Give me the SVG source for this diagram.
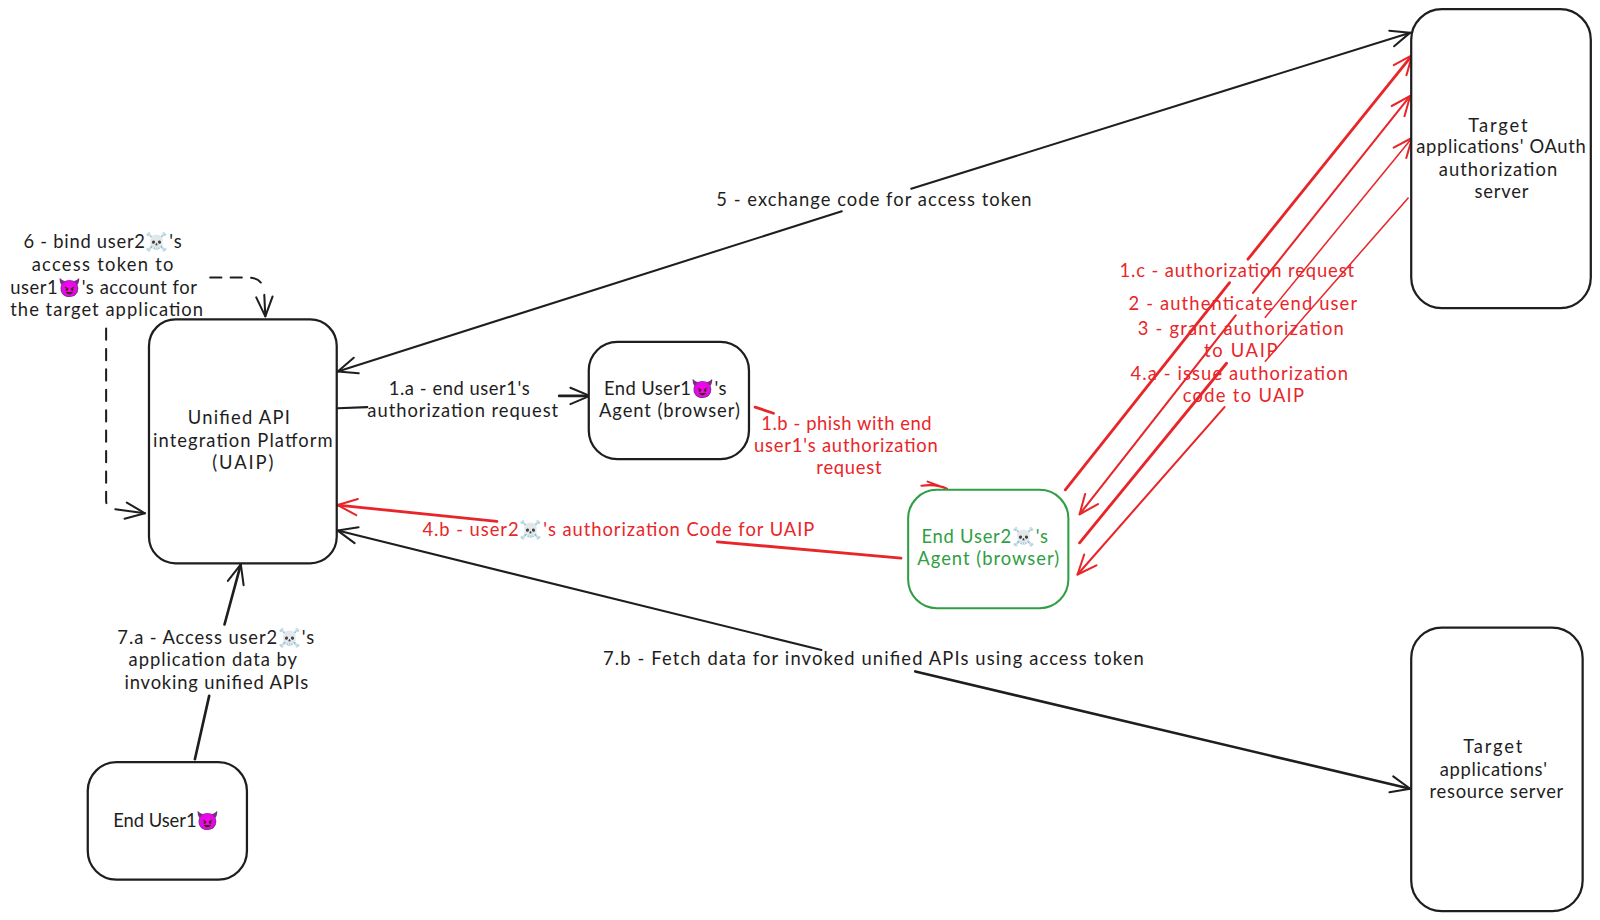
<svg xmlns="http://www.w3.org/2000/svg" width="1600" height="920" viewBox="0 0 1600 920">
<style>
text{font-family:"Lato","Noto Sans","Noto Color Emoji",sans-serif;font-size:18px;fill:#1e1e1e}
.r text,text.r{fill:#e8262a}
.g text{fill:#2f9e44}
.box{fill:#fff;stroke:#1e1e1e;stroke-width:2.2}
.gb{fill:#fff;stroke:#2f9e44;stroke-width:2}
.k{fill:none;stroke:#1e1e1e;stroke-width:2;stroke-linecap:round}
.kt{stroke-width:2.6}
.d{stroke-dasharray:11 9}
.rl{fill:none;stroke:#e8262a;stroke-width:2;stroke-linecap:round}
.rt{stroke-width:2.8}
.rn{stroke-width:1.5}
</style>
<defs>
<marker id="ak" viewBox="-24 -14 28 28" markerWidth="28" markerHeight="28" refX="0" refY="0" markerUnits="userSpaceOnUse" orient="auto-start-reverse"><path d="M-19,-8 L0,0 L-19,8" fill="none" stroke="#1e1e1e" stroke-width="2" stroke-linecap="round" stroke-linejoin="round"/></marker>
<marker id="ar" viewBox="-24 -14 28 28" markerWidth="28" markerHeight="28" refX="0" refY="0" markerUnits="userSpaceOnUse" orient="auto-start-reverse"><path d="M-19,-8 L0,0 L-19,8" fill="none" stroke="#e8262a" stroke-width="2" stroke-linecap="round" stroke-linejoin="round"/></marker>
</defs>
<rect width="1600" height="920" fill="#fff"/>
<g transform="scale(1.0204)">
<g id="connectors">
<path class="k" d="M825,207 L331,364" marker-end="url(#ak)"/>
<path class="k" d="M893,185 L1382,32" marker-end="url(#ak)"/>
<path class="k" d="M331,400 L360,399"/>
<path class="k kt" d="M548,388 L578,388" marker-end="url(#ak)"/>
<path class="k" d="M805,637 L331,520" marker-end="url(#ak)"/>
<path class="k kt" d="M897,658 L1382,773" marker-end="url(#ak)"/>
<path class="k kt" d="M191,744 L205,682"/>
<path class="k kt" d="M220,612 L236,553" marker-end="url(#ak)"/>
<path class="k d" d="M206,272 L245,272 Q256,273 258,282"/>
<path class="k" d="M259,289 L260,310" marker-end="url(#ak)"/>
<path class="k d" d="M104,322 L104,490 Q104,498 110,498"/>
<path class="k" d="M113,499 L142,503" marker-end="url(#ak)"/>
<path class="rl rt" d="M740,399 L758,405"/>
<path class="rl" d="M903,476 Q918,474 928,479 M909,472 L928,479"/>
<path class="rl rt" d="M883,547 L703,531"/>
<path class="rl rt" d="M487,511 L331,495" marker-end="url(#ar)"/>
<path class="rl rt" d="M1044,480 L1205,277"/>
<path class="rl rt" d="M1223,254 L1384,54" marker-end="url(#ar)"/>
<path class="rl" d="M1211,309 L1058,504" marker-end="url(#ar)"/>
<path class="rl" d="M1228,287 L1382,94" marker-end="url(#ar)"/>
<path class="rl rt" d="M1058,532 L1202,356"/>
<path class="rl rn" d="M1240,311 L1384,135" marker-end="url(#ar)"/>
<path class="rl rn" d="M1380,194 L1240,354"/>
<path class="rl" d="M1200,399 L1056,563" marker-end="url(#ar)"/>
</g>
<g id="connector-labels">
<text x="702" y="202" textLength="309">5 - exchange code for access token</text>
<text x="23" y="243" textLength="155">6 - bind user2☠️'s</text>
<text x="31" y="266" textLength="139">access token to</text>
<text x="10" y="288" textLength="183">user1😈's account for</text>
<text x="10" y="310" textLength="189">the target application</text>
<text x="381" y="387" textLength="138">1.a - end user1's</text>
<text x="360" y="409" textLength="187">authorization request</text>
<text x="115" y="631" textLength="193">7.a - Access user2☠️'s</text>
<text x="126" y="653" textLength="165">application data by</text>
<text x="122" y="675" textLength="180">invoking unified APIs</text>
<text x="591" y="652" textLength="530">7.b - Fetch data for invoked unified APIs using access token</text>
<g class="r">
<text x="746" y="421" textLength="167">1.b - phish with end</text>
<text x="739" y="443" textLength="180">user1's authorization</text>
<text x="800" y="465" textLength="64">request</text>
<text x="414" y="525" textLength="384">4.b - user2☠️'s authorization Code for UAIP</text>
<text x="1097" y="271" textLength="230">1.c - authorization request</text>
<text x="1106" y="304" textLength="224">2 - authenticate end user</text>
<text x="1115" y="328" textLength="202">3 - grant authorization</text>
<text x="1180" y="350" textLength="72">to UAIP</text>
<text x="1108" y="372" textLength="213">4.a - issue authorization</text>
<text x="1159" y="394" textLength="119">code to UAIP</text>
</g>
</g>
<g id="uaip">
<rect class="box" x="146" y="313" width="184" height="239" rx="26"/>
<text x="184" y="416" textLength="100">Unified API</text>
<text x="150" y="438" textLength="176">integration Platform</text>
<text x="208" y="460" textLength="60">(UAIP)</text>
</g>
<g id="agent-user1">
<rect class="box" x="577" y="335" width="157" height="115" rx="28"/>
<text x="592" y="387" textLength="120">End User1😈's</text>
<text x="587" y="409" textLength="138">Agent (browser)</text>
</g>
<g id="agent-user2" class="g">
<rect class="gb" x="890" y="480" width="157" height="116" rx="28"/>
<text x="903" y="532" textLength="124">End User2☠️'s</text>
<text x="899" y="554" textLength="139">Agent (browser)</text>
</g>
<g id="oauth-server">
<rect class="box" x="1383" y="9" width="176" height="293" rx="30"/>
<text x="1439" y="129" textLength="58">Target</text>
<text x="1388" y="150" textLength="166">applications' OAuth</text>
<text x="1410" y="172" textLength="116">authorization</text>
<text x="1445" y="194" textLength="53">server</text>
</g>
<g id="resource-server">
<rect class="box" x="1383" y="615" width="168" height="278" rx="30"/>
<text x="1434" y="738" textLength="58">Target</text>
<text x="1411" y="760" textLength="105">applications'</text>
<text x="1401" y="782" textLength="131">resource server</text>
</g>
<g id="end-user1">
<rect class="box" x="86" y="747" width="156" height="115" rx="28"/>
<text x="111" y="810" textLength="104">End User1😈</text>
</g>
</g>
</svg>
